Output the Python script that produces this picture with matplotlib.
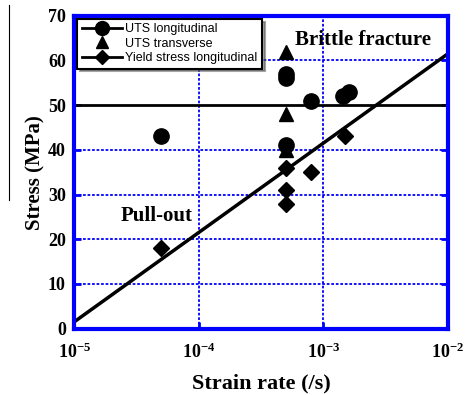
import numpy as np
import matplotlib.pyplot as plt
from matplotlib.lines import Line2D

plt.rcParams['mathtext.fontset'] = 'custom'
plt.rcParams['mathtext.bf'] = 'Liberation Serif:bold'
plt.rcParams['mathtext.rm'] = 'Liberation Serif:bold'
plt.rcParams['mathtext.it'] = 'Liberation Serif:bold'

# Data
uts_long_rate = [5e-5, 5e-4, 5e-4, 5e-4, 8e-4, 1.45e-3, 1.6e-3]
uts_long_stress = [43, 57, 56, 41, 51, 52, 53]

uts_trans_rate = [5e-4, 5e-4, 5e-4]
uts_trans_stress = [62, 48, 40]

yield_long_rate = [5e-5, 5e-4, 5e-4, 5e-4, 8e-4, 1.5e-3]
yield_long_stress = [18, 36, 31, 28, 35, 43]

# Fitted trend line endpoints and horizontal level
fit_rate = [1e-5, 1e-2]
fit_stress = [1.5, 61.5]
level_stress = 50

xtick_vals = [1e-5, 1e-4, 1e-3, 1e-2]
xtick_labels = [r'$\mathbf{10^{-5}}$', r'$\mathbf{10^{-4}}$',
                r'$\mathbf{10^{-3}}$', r'$\mathbf{10^{-2}}$']

blue = '#0000ff'
serif = ['Liberation Serif', 'DejaVu Serif']

fig = plt.figure(figsize=(4.66, 3.95), dpi=100)
ax = fig.add_axes([0.159, 0.168, 0.802, 0.792])

ax.set_xscale('log')
ax.set_xlim(1e-5, 1e-2)
ax.set_ylim(0, 70)

# Grid
for y in [10, 20, 30, 40, 60]:
    ax.axhline(y, color=blue, lw=1.3, ls=(0, (1.5, 1)), zorder=1)
for x in [1e-4, 1e-3]:
    ax.axvline(x, color=blue, lw=1.3, ls=(0, (1.5, 1)), zorder=1)

ax.axhline(level_stress, color='black', lw=2, zorder=2)
ax.plot(fit_rate, fit_stress, color='black', lw=2.5, zorder=2, solid_capstyle='butt')

ax.plot(uts_long_rate, uts_long_stress, 'o', color='black', ms=11, zorder=3)
ax.plot(uts_trans_rate, uts_trans_stress, '^', color='black', ms=10, zorder=3)
ax.plot(yield_long_rate, yield_long_stress, 'D', color='black', ms=8, zorder=3)

# Legend with line-and-marker handles
handles = [
    Line2D([], [], color='black', lw=2, marker='o', ms=10),
    Line2D([], [], color='black', lw=0, marker='^', ms=9),
    Line2D([], [], color='black', lw=2, marker='D', ms=7),
]
labels = ['UTS longitudinal', 'UTS transverse', 'Yield stress longitudinal']
leg = ax.legend(handles, labels, loc='upper left', bbox_to_anchor=(0.0, 1.0),
                prop={'family': ['Liberation Sans', 'DejaVu Sans'], 'size': 9},
                handlelength=3.2, handletextpad=0.3,
                labelspacing=0.2, borderpad=0.35, borderaxespad=0.25,
                fancybox=False, shadow=True, framealpha=1)
leg.get_frame().set_edgecolor('black')
leg.get_frame().set_linewidth(1.5)

ax.text(2.1e-3, 64.5, 'Brittle fracture', family=serif, fontweight='bold',
        fontsize=15, ha='center', va='center')
ax.text(4.6e-5, 25.2, 'Pull-out', family=serif, fontweight='bold',
        fontsize=15, ha='center', va='center')

# Spines and ticks
for s in ax.spines.values():
    s.set_color(blue)
    s.set_linewidth(3)
ax.set_yticks(range(0, 80, 10))
ax.set_xticks(xtick_vals)
ax.set_xticklabels(xtick_labels)
ax.minorticks_off()
ax.tick_params(axis='both', direction='in', color=blue, width=2, length=5,
               right=True, labelsize=13, pad=6)
ax.tick_params(axis='x', pad=10)
for lab in ax.get_yticklabels() + ax.get_xticklabels():
    lab.set_family(serif)
    lab.set_fontweight('bold')

ax.set_xlabel('Strain rate (/s)', family=serif, fontweight='bold', fontsize=16, labelpad=8)
ax.set_ylabel('Stress (MPa)', family=serif, fontweight='bold', fontsize=15, labelpad=2)

# Thin vertical stroke at the far left of the original image
fig.add_artist(Line2D([9 / 466, 9 / 466], [1 - 5 / 395, 1 - 200 / 395],
                      color='black', lw=0.8, transform=fig.transFigure))

fig.savefig('out.png', dpi=100)
